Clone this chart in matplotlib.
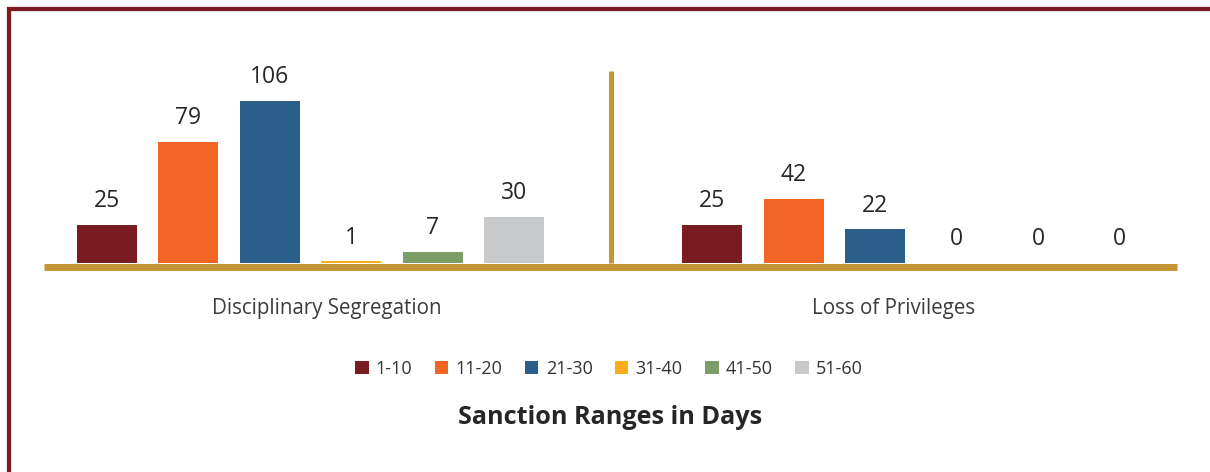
import matplotlib
matplotlib.use("Agg")
import matplotlib.pyplot as plt
import matplotlib.transforms as mtransforms
from matplotlib.patches import Patch
from matplotlib.lines import Line2D
import numpy as np

categories = ["Disciplinary Segregation", "Loss of Privileges"]
series = ["1-10", "11-20", "21-30", "31-40", "41-50", "51-60"]
values = {
    "1-10": [25, 25],
    "11-20": [79, 42],
    "21-30": [106, 22],
    "31-40": [1, 0],
    "41-50": [7, 0],
    "51-60": [30, 0],
}
colors = ["#7A1A21", "#F26524", "#2A5F8C", "#FBAE17", "#7A9E66", "#C8C9CB"]
title = "Sanction Ranges in Days"

plt.rcParams["font.family"] = ["Open Sans", "DejaVu Sans"]
W, H, DPI = 1210, 472, 100
fig = plt.figure(figsize=(W / DPI, H / DPI), dpi=DPI)

# axes placement (pixels)
ax_left, ax_right, ax_top, ax_bottom = 44, 1177, 71, 263
ax = fig.add_axes([ax_left / W, 1 - ax_bottom / H, (ax_right - ax_left) / W, (ax_bottom - ax_top) / H])
ax.set_xlim(0, 2)
ax.set_ylim(0, 125.5)
ax.axis("off")

gold = "#C69535"
text_c = "#262626"
unit_px = (ax_right - ax_left) / 2.0
bar_w = 60 / unit_px
step = 81.5 / unit_px
group_shift = [-17 / unit_px, 22 / unit_px]

ncat = len(categories)
nser = len(series)
for ci in range(ncat):
    center = ci + 0.5 + group_shift[ci]
    for si, s in enumerate(series):
        x = center + (si - (nser - 1) / 2) * step
        v = values[s][ci]
        ax.bar(x, v, width=bar_w, color=colors[si], zorder=2)
        ax.annotate(str(v), (x, v), xytext=(0, 8.5), textcoords="offset points",
                    ha="center", va="bottom", fontsize=16.5, color=text_c, zorder=3)
    ax.text(ci + 0.5, -0.235, categories[ci], transform=ax.get_xaxis_transform(),
            ha="center", va="center", fontsize=14.8, color="#3c3c3c")

# baseline (drawn just below zero)
off = mtransforms.ScaledTranslation(0, -3.5 / DPI, fig.dpi_scale_trans)
ax.plot([0, 2], [0, 0], color=gold, lw=7 * 72 / DPI, solid_capstyle="butt",
        transform=ax.transData + off, clip_on=False, zorder=4)
# divider
ax.plot([1, 1], [0, 1], color=gold, lw=5 * 72 / DPI, solid_capstyle="butt",
        transform=ax.get_xaxis_transform(), clip_on=False, zorder=1)

# legend
handles = [Patch(facecolor=c, edgecolor="none", label=s) for s, c in zip(series, colors)]
fig.legend(handles=handles, loc="center", bbox_to_anchor=(609 / W, 1 - 369 / H), ncol=6,
           frameon=False, fontsize=13, handlelength=0.75, handleheight=0.75,
           handletextpad=0.4, columnspacing=1.24, labelcolor="#333333")

fig.text(610 / W, 1 - 418 / H, title, ha="center", va="center", fontsize=18.2,
         fontweight="bold", color=text_c)

# frame border (top and left)
border = "#7B1C22"
fig.add_artist(Line2D([7 / W, 1], [1 - 8.5 / H, 1 - 8.5 / H], color=border, lw=4.3 * 72 / DPI,
                      transform=fig.transFigure, solid_capstyle="butt"))
fig.add_artist(Line2D([8.8 / W, 8.8 / W], [0, 1 - 6.5 / H], color=border, lw=4.3 * 72 / DPI,
                      transform=fig.transFigure, solid_capstyle="butt"))

fig.savefig("out.png", dpi=DPI)
